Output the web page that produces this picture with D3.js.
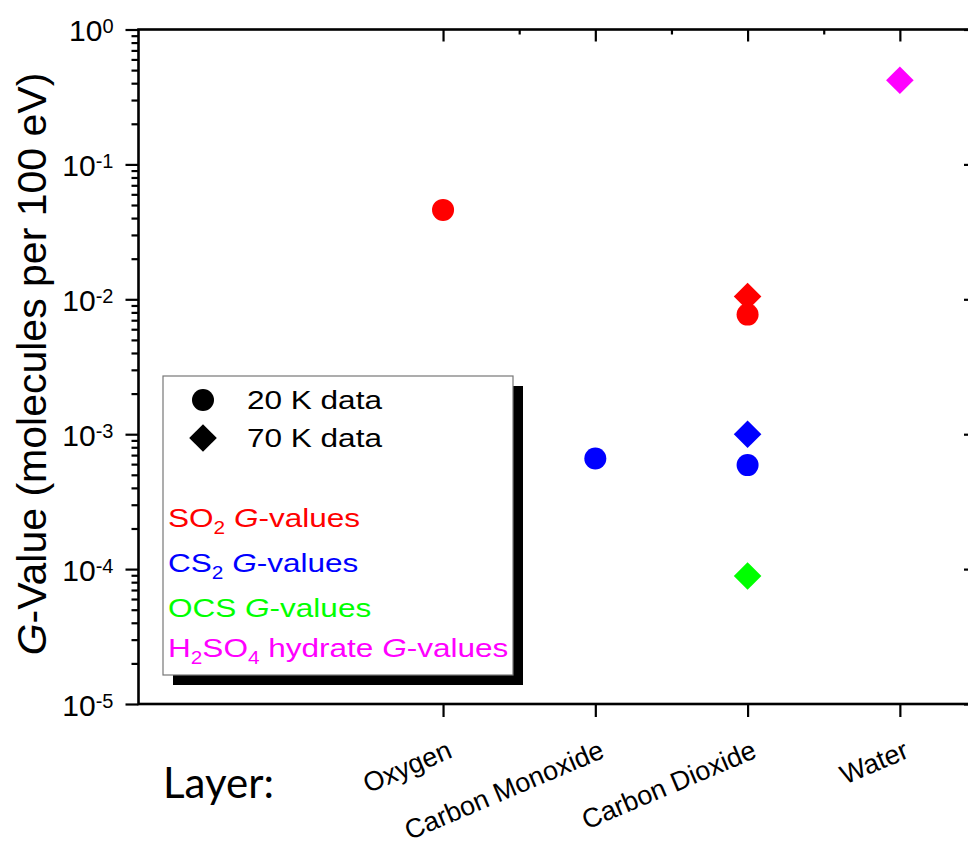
<!DOCTYPE html>
<html>
<head>
<meta charset="utf-8">
<script src="https://cdn.jsdelivr.net/npm/d3@7/dist/d3.min.js"></script>
<style>
  html, body { margin: 0; padding: 0; background: #fff; }
  svg { display: block; }
  text { font-family: "Liberation Sans", Arial, sans-serif; }
</style>
</head>
<body>
<svg id="chart" width="968" height="848"></svg>
<script>
// ---------- data ----------
const categories = ["Oxygen", "Carbon Monoxide", "Carbon Dioxide", "Water"];
const yTickExponents = [-5, -4, -3, -2, -1, 0];

// G-values per layer (null = no measurement)
const so2_20K   = [0.046, null, 0.0077, null];
const so2_70K   = [null, null, 0.0105, null];
const cs2_20K   = [null, 0.00066, 0.00059, null];
const cs2_70K   = [null, null, 0.0010, null];
const ocs_70K   = [null, null, 0.000089, null];
const h2so4_70K = [null, null, null, 0.42];

const seriesList = [
  { values: so2_70K,   shape: "diamond", color: "#ff0000" },
  { values: so2_20K,   shape: "circle",  color: "#ff0000" },
  { values: cs2_70K,   shape: "diamond", color: "#0000ff" },
  { values: cs2_20K,   shape: "circle",  color: "#0000ff" },
  { values: ocs_70K,   shape: "diamond", color: "#00ff00" },
  { values: h2so4_70K, shape: "diamond", color: "#ff00ff" }
];

// ---------- layout ----------
const L = 138.5, R = 976, T = 29.5, B = 704;
const svg = d3.select("#chart");

const x = d3.scaleLinear().domain([-2, 3.5]).range([L, R]);
const y = d3.scaleLog().domain([1e-5, 1]).range([B, T]);

const majorY = yTickExponents.map(e => Math.pow(10, e));
const minorY = [];
yTickExponents.slice(0, -1).forEach(e => {
  for (let m = 2; m <= 9; m++) minorY.push(m * Math.pow(10, e));
});
const catIdx = categories.map((c, i) => i);
const halfIdx = [0.5, 1.5, 2.5, 3.5];

function styleAxis(g) {
  g.select(".domain").remove();
  g.selectAll(".tick line").attr("stroke", "#000").attr("stroke-width", 2.2);
}

// left axis minor
svg.append("g").attr("transform", `translate(${L},0)`)
  .call(d3.axisLeft(y).tickValues(minorY).tickSize(7).tickFormat(""))
  .call(styleAxis);
// left axis major
const leftAx = svg.append("g").attr("transform", `translate(${L},0)`)
  .call(d3.axisLeft(y).tickValues(majorY).tickSize(13).tickFormat(""))
  .call(styleAxis);
leftAx.selectAll(".tick text").remove();
leftAx.selectAll(".tick").each(function(d) {
  const t = d3.select(this).append("text")
    .attr("x", -25).attr("y", 0).attr("dy", "0.38em")
    .attr("text-anchor", "end").attr("fill", "#000")
    .style("font-size", "30px");
  t.append("tspan").text("10");
  t.append("tspan").attr("dy", "-0.42em").style("font-size", "20px")
    .text(Math.round(Math.log10(d)).toString());
});

// right axis (inward ticks)
svg.append("g").attr("transform", `translate(${R},0)`)
  .call(d3.axisLeft(y).tickValues(majorY).tickSize(12).tickFormat(""))
  .call(styleAxis);
svg.append("g").attr("transform", `translate(${R},0)`)
  .call(d3.axisLeft(y).tickValues(minorY).tickSize(6).tickFormat(""))
  .call(styleAxis);

// top axis (inward ticks)
svg.append("g").attr("transform", `translate(0,${T})`)
  .call(d3.axisBottom(x).tickValues(catIdx).tickSize(12).tickFormat(""))
  .call(styleAxis);
svg.append("g").attr("transform", `translate(0,${T})`)
  .call(d3.axisBottom(x).tickValues(halfIdx).tickSize(5).tickFormat(""))
  .call(styleAxis);

// bottom axis
const botAx = svg.append("g").attr("transform", `translate(0,${B})`)
  .call(d3.axisBottom(x).tickValues(catIdx).tickSize(13).tickFormat(i => categories[i]))
  .call(styleAxis);
botAx.selectAll(".tick text")
  .attr("y", 0).attr("dy", 0)
  .attr("text-anchor", "end")
  .attr("transform", "translate(10,53) rotate(-23)")
  .attr("fill", "#000")
  .style("font-size", "27px")
  .style("font-family", "'Liberation Sans', Arial, sans-serif");

// frame
svg.append("rect")
  .attr("x", L).attr("y", T).attr("width", R - L).attr("height", B - T)
  .attr("fill", "none").attr("stroke", "#000").attr("stroke-width", 2.6);

// y label
const yl = svg.append("text")
  .attr("transform", `translate(46,${(70 + 658) / 2}) rotate(-90)`)
  .attr("text-anchor", "middle").attr("fill", "#000")
  .style("font-size", "41px");
yl.append("tspan").style("font-style", "italic").text("G");
yl.append("tspan").text("-Value (molecules per 100 eV)");

// "Layer:" label
svg.append("text").attr("x", 163).attr("y", 798)
  .attr("fill", "#000")
  .style("font-family", "Lato, 'Open Sans', sans-serif")
  .style("font-size", "42px")
  .text("Layer:");

// ---------- markers ----------
const circleSym = d3.symbol().type(d3.symbolCircle).size(Math.PI * 11 * 11);
const diamondSym = d3.symbol().type(d3.symbolSquare).size(2 * 13.8 * 13.8);

function drawMarker(g, shape, color, cx, cy) {
  if (shape === "circle") {
    g.append("path").attr("d", circleSym()).attr("fill", color)
      .attr("transform", `translate(${cx},${cy})`);
  } else {
    g.append("path").attr("d", diamondSym()).attr("fill", color)
      .attr("transform", `translate(${cx},${cy}) rotate(45)`);
  }
}

const pts = svg.append("g");
seriesList.forEach(s => {
  s.values.forEach((v, i) => {
    if (v == null) return;
    drawMarker(pts, s.shape, s.color, x(i), y(v));
  });
});

// ---------- legend ----------
const lg = svg.append("g");
lg.append("rect").attr("x", 173).attr("y", 386).attr("width", 350).attr("height", 299).attr("fill", "#000");
lg.append("rect").attr("x", 163).attr("y", 376).attr("width", 350).attr("height", 299)
  .attr("fill", "#fff").attr("stroke", "#777").attr("stroke-width", 1.2);

drawMarker(lg, "circle", "#000", 203, 400);
drawMarker(lg, "diamond", "#000", 203, 438);

const legendFont = 26.5, stretch = 1.19;
function legendText(xp, yp, color, parts) {
  const t = lg.append("text")
    .attr("transform", `translate(${xp},${yp}) scale(${stretch},1)`)
    .attr("fill", color).style("font-size", legendFont + "px");
  parts.forEach(p => {
    const ts = t.append("tspan").text(p.t);
    if (p.sub) ts.attr("dy", 7).style("font-size", (legendFont * 0.66) + "px");
    if (p.up) ts.attr("dy", -7);
    if (p.it) ts.style("font-style", "italic");
  });
}
legendText(247, 409, "#000", [{ t: "20 K data" }]);
legendText(247, 447, "#000", [{ t: "70 K data" }]);
legendText(168, 527, "#ff0000", [{ t: "SO" }, { t: "2", sub: true }, { t: " ", up: true }, { t: "G", it: true }, { t: "-values" }]);
legendText(168, 572, "#0000ff", [{ t: "CS" }, { t: "2", sub: true }, { t: " ", up: true }, { t: "G", it: true }, { t: "-values" }]);
legendText(168, 617, "#00ff00", [{ t: "OCS " }, { t: "G", it: true }, { t: "-values" }]);
legendText(168, 657, "#ff00ff", [{ t: "H" }, { t: "2", sub: true }, { t: "SO", up: true }, { t: "4", sub: true }, { t: " hydrate ", up: true }, { t: "G", it: true }, { t: "-values" }]);
</script>
</body>
</html>
